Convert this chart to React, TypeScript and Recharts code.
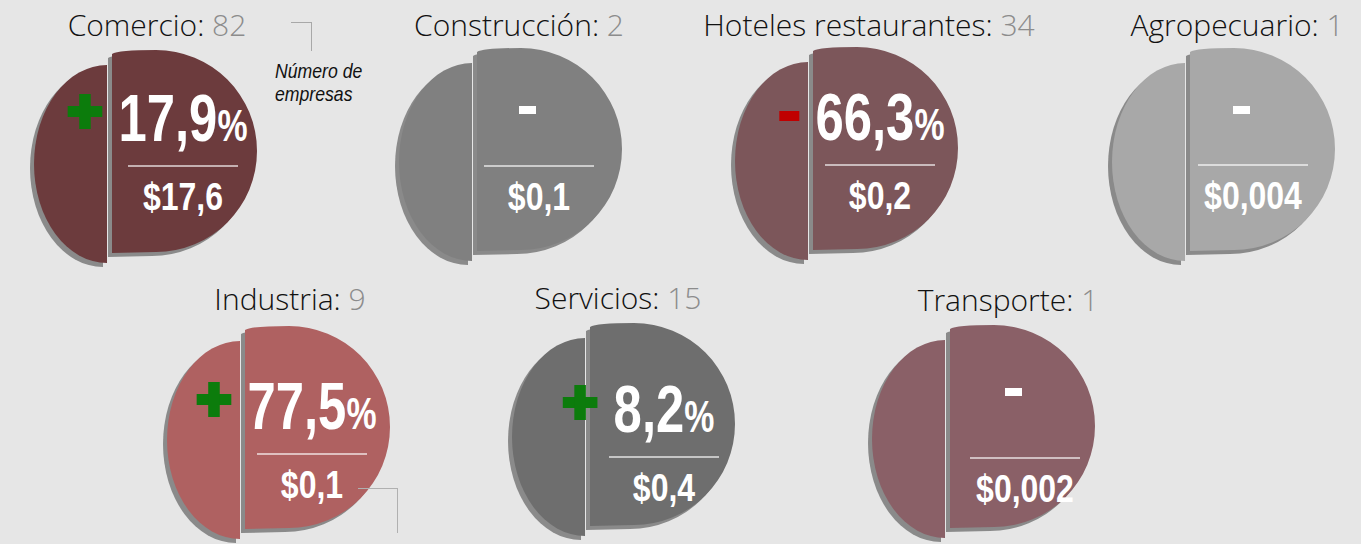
import { PieChart, Pie, Cell } from "recharts";

// datos de cada sector
const sectors = [
  "Comercio",
  "Construcción",
  "Hoteles restaurantes",
  "Agropecuario",
  "Industria",
  "Servicios",
  "Transporte",
];
const companies = [82, 2, 34, 1, 9, 15, 1];
// variación porcentual (null = sin variación)
const changes: (number | null)[] = [17.9, null, -66.3, null, 77.5, 8.2, null];
const amounts = [17.6, 0.1, 0.2, 0.004, 0.1, 0.4, 0.002];
const colors = ["#6c3b3d", "#808080", "#7c565a", "#a8a8a8", "#af6161", "#6e6e6e", "#8a6067"];
const pieParts = [
  { part: "left", share: 31 },
  { part: "right", share: 69 },
];

// posición de cada pastel: x del corte, y superior, offsets de la línea y del guion, centro/base del título
const layout = [
  { x: 112, y: 50, lx: 16, ly: 115, dt: 58, tx: 157, ty: 37 },
  { x: 477, y: 48, lx: 7, ly: 117, dt: 58, tx: 519, ty: 37 },
  { x: 813, y: 47, lx: 12, ly: 117, dt: 58, tx: 869, ty: 37 },
  { x: 1190, y: 48, lx: 8, ly: 116, dt: 58, tx: 1237, ty: 37 },
  { x: 245, y: 326, lx: 12, ly: 127, dt: 63, tx: 290, ty: 311 },
  { x: 590, y: 323, lx: 19, ly: 133, dt: 63, tx: 618, ty: 310 },
  { x: 950, y: 325, lx: 20, ly: 132, dt: 63, tx: 1008, ty: 312 },
];

const R = 101;
const OX = 95;
const OY = 20;
const TW = 250;
const TH = 250;
const BOLD = '"Liberation Sans", Arial, sans-serif';
const S_BIG = 0.77;
const S_SMALL = 0.82;

const fmt = (v: number) => String(v).replace(".", ",");

function Piece(props: any) {
  const { cx, cy, fill, payload } = props;
  const cut = cx - 44;
  const top = cy - R;
  const d =
    payload.part === "right"
      ? `M${cut},${top + 4} Q${cut + 6},${top} ${cx},${top} A${R},${R} 0 0 1 ${cx},${top + 2 * R} L${cut},${top + 2 * R + 1} Z`
      : `M${cut - 5},${top + 15} A73,99 0 0 0 ${cut - 5},${top + 213} Z`;
  return (
    <g>
      <path d={d} fill="#8a8a8a" transform="translate(-4,4)" />
      <path d={d} fill={fill} />
    </g>
  );
}

// signo dentro de un bloque escalado horizontalmente por S_BIG
function Sign({ positive }: { positive: boolean }) {
  const green = "#0c7c0c";
  const k = 1 / S_BIG;
  if (positive) {
    return (
      <div style={{ position: "absolute", right: `calc(100% + ${16 * k}px)`, top: 9, width: 35 * k, height: 35 }}>
        <div style={{ position: "absolute", left: 0, top: 12, width: 35 * k, height: 11, background: green }} />
        <div style={{ position: "absolute", left: 12 * k, top: 0, width: 11 * k, height: 35, background: green }} />
      </div>
    );
  }
  return (
    <div
      style={{
        position: "absolute",
        right: `calc(100% + ${16 * k}px)`,
        top: 27,
        width: 20 * k,
        height: 10,
        background: "#c00000",
      }}
    />
  );
}

function Tile({ i }: { i: number }) {
  const L = layout[i];
  const change = changes[i];
  const lineX = L.x + L.lx;
  const lineY = L.y + L.ly;
  const mid = lineX + 55;
  return (
    <>
      <div style={{ position: "absolute", left: L.x - OX, top: L.y - OY }}>
        <PieChart width={TW} height={TH} margin={{ top: 0, right: 0, bottom: 0, left: 0 }}>
          <Pie
            data={pieParts}
            dataKey="share"
            nameKey="part"
            cx={OX + 44}
            cy={OY + R}
            outerRadius={R}
            startAngle={90}
            endAngle={-270}
            stroke="none"
            shape={Piece}
            isAnimationActive={false}
          >
            {pieParts.map((p) => (
              <Cell key={p.part} fill={colors[i]} />
            ))}
          </Pie>
        </PieChart>
      </div>
      <div
        style={{
          position: "absolute",
          left: L.tx,
          top: L.ty - 0.888 * 30,
          transform: "translateX(-50%)",
          fontFamily: '"Open Sans", Roboto, sans-serif',
          fontWeight: 300,
          fontSize: 30,
          lineHeight: "30px",
          whiteSpace: "nowrap",
          color: "#111",
        }}
      >
        {sectors[i]}: <span style={{ color: "#8c8c8c" }}>{companies[i]}</span>
      </div>
      <div
        style={{
          position: "absolute",
          left: lineX,
          top: lineY,
          width: 110,
          height: 1.5,
          background: "rgba(255,255,255,0.6)",
        }}
      />
      {change !== null ? (
        <div
          style={{
            position: "absolute",
            left: mid,
            top: lineY - 24 - 0.8465 * 66,
            transform: `translateX(-50%) scaleX(${S_BIG})`,
            fontFamily: BOLD,
            fontWeight: 700,
            fontSize: 66,
            lineHeight: "66px",
            color: "#fff",
            whiteSpace: "nowrap",
          }}
        >
          {fmt(Math.abs(change))}
          <span style={{ fontSize: 44 }}>%</span>
          <Sign positive={change > 0} />
        </div>
      ) : (
        <div
          style={{
            position: "absolute",
            left: mid - 12 - 8.5,
            top: L.y + L.dt,
            width: 17,
            height: 8,
            background: "#fff",
          }}
        />
      )}
      <div
        style={{
          position: "absolute",
          left: mid,
          top: lineY + 45 - 0.8465 * 39,
          transform: `translateX(-50%) scaleX(${S_SMALL})`,
          fontFamily: BOLD,
          fontWeight: 700,
          fontSize: 39,
          lineHeight: "39px",
          color: "#fff",
          whiteSpace: "nowrap",
        }}
      >
        ${fmt(amounts[i])}
      </div>
    </>
  );
}

export default function App() {
  return (
    <div
      style={{
        position: "absolute",
        left: 0,
        top: 0,
        width: 1361,
        height: 544,
        overflow: "hidden",
        background: "#e6e6e6",
      }}
    >
      {sectors.map((s, i) => (
        <Tile key={s} i={i} />
      ))}
      <div
        style={{
          position: "absolute",
          left: 275,
          top: 77 - 0.8465 * 21,
          transform: "scaleX(0.84)",
          transformOrigin: "0 0",
          fontFamily: BOLD,
          fontStyle: "italic",
          fontSize: 21,
          lineHeight: "23px",
          color: "#111",
          whiteSpace: "nowrap",
        }}
      >
        Número de
        <br />
        empresas
      </div>
      <div
        style={{
          position: "absolute",
          left: 291,
          top: 22,
          width: 20,
          height: 28,
          borderTop: "1px solid #a8a8a8",
          borderRight: "1px solid #a8a8a8",
        }}
      />
      <div
        style={{
          position: "absolute",
          left: 358,
          top: 488,
          width: 39,
          height: 44,
          borderTop: "1px solid #b0b0b0",
          borderRight: "1px solid #b0b0b0",
        }}
      />
    </div>
  );
}
